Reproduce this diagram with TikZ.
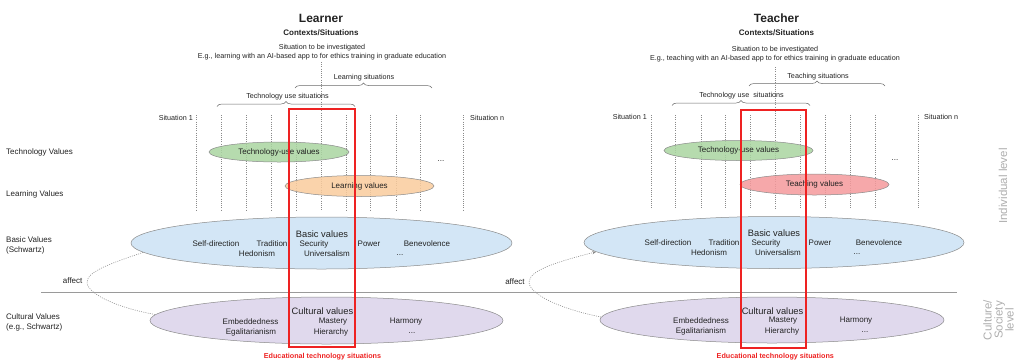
\documentclass[tikz,border=0pt]{standalone}
\usepackage{fontspec}
\setmainfont{Liberation Sans}
\usetikzlibrary{shapes.geometric,decorations.pathreplacing,arrows.meta}
\definecolor{txt}{HTML}{222222}
\definecolor{greenF}{HTML}{A9D5A0}
\definecolor{orangeF}{HTML}{F9CB9C}
\definecolor{pinkF}{HTML}{F4999B}
\definecolor{blueF}{HTML}{CBE2F4}
\definecolor{purpleF}{HTML}{DAD2EA}
\definecolor{edge}{HTML}{8A8A8A}
\definecolor{redbox}{HTML}{EE2222}
\definecolor{levelgray}{HTML}{AEAEAE}
\definecolor{linegray}{HTML}{9A9A9A}
\definecolor{bracegray}{HTML}{6A6A6A}
\begin{document}
\begin{tikzpicture}[x=1pt,y=-1pt,
  every node/.style={text=txt, inner sep=0pt},
  f8/.style={font=\fontsize{8}{9.5}\selectfont},
  f7/.style={font=\fontsize{7.2}{8.5}\selectfont},
  fbig/.style={font=\fontsize{9.3}{11}\selectfont},
  ttl/.style={font=\bfseries\fontsize{12}{14}\selectfont},
  sub/.style={font=\bfseries\fontsize{8}{9.5}\selectfont},
  rowlbl/.style={f8, anchor=west, align=left},
  valell/.style={ellipse, draw=edge, line width=0.5pt, fill opacity=0.85, text opacity=1, inner sep=0pt},
  sitline/.style={draw=edge, dash pattern=on 1pt off 1.2pt, line width=0.55pt},
  bracestyle/.style={draw=bracegray, line width=0.5pt, decorate, decoration={brace, amplitude=5pt}},
  redframe/.style={draw=redbox, line width=2pt},
  redlbl/.style={font=\bfseries\fontsize{7.2}{8.5}\selectfont, text=redbox},
  levellbl/.style={font=\fontsize{11.5}{11}\selectfont, text=levelgray, rotate=90, align=center}
]
\useasboundingbox (0,0) rectangle (1025,360);

% ---------------- row labels ----------------
\node[rowlbl] (rTech) at (6,152) {Technology Values};
\node[rowlbl] (rLearn) at (6,194) {Learning Values};
\node[rowlbl, font=\fontsize{8}{10}\selectfont] (rBasic) at (6,245.5) {Basic Values\\(Schwartz)};
\node[rowlbl, font=\fontsize{8}{10}\selectfont] (rCult) at (6,322) {Cultural Values\\(e.g., Schwartz)};

% ---------------- LEFT panel ----------------
\node[ttl] (learner) at (321,18) {Learner};
\node[sub] (ctxL) at (321,33) {Contexts/Situations};
\node[f7] (invL) at (322,47.5) {Situation to be investigated};
\node[f7] (egL) at (322,56.5) {E.g., learning with an AI-based app to for ethics training in graduate education};

\foreach \x in {196.7,221.7,246.7,271.7,296.3,346.7,370.7,396,420.7,463.3}
  \draw[sitline] (\x,115) -- (\x,210);
\coordinate (cTopL) at (321,62);
\coordinate (cBotL) at (321,210);
\draw[sitline] (cTopL) -- (cBotL);

\coordinate (lsA) at (295,88); \coordinate (lsB) at (432,88);
\draw[bracestyle] (lsA) -- (lsB);
\node[f7] (lsLbl) at (364,77.5) {Learning situations};
\coordinate (tuA) at (217,106.5); \coordinate (tuB) at (355,106.5);
\draw[bracestyle] (tuA) -- (tuB);
\node[f7] (tuLbl) at (287.5,96.5) {Technology use situations};

\node[f7, anchor=east] (s1L) at (193,118) {Situation 1};
\node[f7, anchor=west] (snL) at (470,118) {Situation n};

\node[valell, fill=greenF, minimum width=140, minimum height=20, f8] (tvL) at (279,152) {Technology-use values};
\node[valell, fill=orangeF, minimum width=149, minimum height=21, f8] (lvL) at (359.5,186) {Learning values};
\node[f8] (dotsTL) at (441,161) {...};

\node[valell, fill=blueF, minimum width=381, minimum height=52] (bvL) at (321.5,243) {};
\node[fbig] (bvtL) at (322,234) {Basic values};
\node[f8] (sdL) at (216,244) {Self-direction};
\node[f8] (trL) at (272,244) {Tradition};
\node[f8] (seL) at (314,244) {Security};
\node[f8] (poL) at (369,244) {Power};
\node[f8] (beL) at (427,244) {Benevolence};
\node[f8] (heL) at (257,254) {Hedonism};
\node[f8] (unL) at (327,254) {Universalism};
\node[f8] (bdL) at (400,255) {...};

\node[valell, fill=purpleF, minimum width=353, minimum height=47] (cvL) at (326.5,320.5) {};
\node[fbig] (cvtL) at (322.5,311) {Cultural values};
\node[f8] (emL) at (250.5,322) {Embeddedness};
\node[f8] (egaL) at (251,332) {Egalitarianism};
\node[f8] (maL) at (333,322) {Mastery};
\node[f8] (hiL) at (331,332) {Hierarchy};
\node[f8] (haL) at (406,322) {Harmony};
\node[f8] (cdL) at (412,333) {...};

\node[f8] (affL) at (72.7,281) {affect};
\coordinate (apL) at (87,282);
\draw[sitline] (bvL.183) .. controls (115,262) and (87,271) .. (apL)
  .. controls (87,294) and (118,308) .. (cvL.178);

% ---------------- RIGHT panel ----------------
\node[ttl] (teacher) at (776.5,18) {Teacher};
\node[sub] (ctxR) at (776.5,33) {Contexts/Situations};
\node[f7] (invR) at (775,50) {Situation to be investigated};
\node[f7] (egR) at (775,59) {E.g., teaching with an AI-based app to for ethics training in graduate education};

\foreach \x in {651.3,675.7,701,725.7,750.3,800.3,825.3,850.3,875.3,918}
  \draw[sitline] (\x,115) -- (\x,208);
\coordinate (cTopR) at (775.3,67);
\coordinate (cBotR) at (775.3,208);
\draw[sitline] (cTopR) -- (cBotR);

\coordinate (tsA) at (749,86); \coordinate (tsB) at (885,86);
\draw[bracestyle] (tsA) -- (tsB);
\node[f7] (tsLbl) at (818,77) {Teaching situations};
\coordinate (tuRA) at (672,105.5); \coordinate (tuRB) at (810,105.5);
\draw[bracestyle] (tuRA) -- (tuRB);
\node[f7] (tuRLbl) at (741.5,96) {Technology use\ \ situations};

\node[f7, anchor=east] (s1R) at (647,117) {Situation 1};
\node[f7, anchor=west] (snR) at (924,117) {Situation n};

\node[valell, fill=greenF, minimum width=149, minimum height=20, f8] (tvR) at (738.5,150.5) {Technology-use values};
\node[valell, fill=pinkF, minimum width=149, minimum height=21, f8] (tcR) at (814.5,184.5) {Teaching values};
\node[f8] (dotsTR) at (895,160) {...};

\node[valell, fill=blueF, minimum width=380, minimum height=52] (bvR) at (774,242.5) {};
\node[fbig] (bvtR) at (774,233) {Basic values};
\node[f8] (sdR) at (668,243) {Self-direction};
\node[f8] (trR) at (724,243) {Tradition};
\node[f8] (seR) at (766,243) {Security};
\node[f8] (poR) at (820,243) {Power};
\node[f8] (beR) at (879,243) {Benevolence};
\node[f8] (heR) at (709,253) {Hedonism};
\node[f8] (unR) at (778,253) {Universalism};
\node[f8] (bdR) at (857,254) {...};

\node[valell, fill=purpleF, minimum width=344, minimum height=46] (cvR) at (772,320) {};
\node[fbig] (cvtR) at (772.5,311) {Cultural values};
\node[f8] (emR) at (701,321) {Embeddedness};
\node[f8] (egaR) at (701,331) {Egalitarianism};
\node[f8] (maR) at (783,321) {Mastery};
\node[f8] (hiR) at (782,331) {Hierarchy};
\node[f8] (haR) at (856,321) {Harmony};
\node[f8] (cdR) at (865,332) {...};

\node[f8] (affR) at (515,282) {affect};
\coordinate (apR) at (529,282);
\draw[sitline, -{Stealth[length=4pt,width=3pt]}] (cvR.179) .. controls (560,309) and (529,294) .. (apR)
  .. controls (529,270) and (560,261) .. (bvR.183);

% ---------------- separator & levels ----------------
\coordinate (hlA) at (41,292.5);
\coordinate (hlB) at (957,292.5);
\draw[linegray, line width=0.9pt] (hlA) -- (hlB);

\node[levellbl] (indiv) at (1003,186) {Individual level};
\node[levellbl] (cultlvl) at (998.5,320) {Culture/\\Society\\level};

% ---------------- red frames ----------------
\coordinate (rLa) at (289,109); \coordinate (rLb) at (355,347);
\draw[redframe] (rLa) rectangle (rLb);
\node[redlbl] (edL) at (322.5,356.7) {Educational technology situations};
\coordinate (rRa) at (741,110); \coordinate (rRb) at (806,348);
\draw[redframe] (rRa) rectangle (rRb);
\node[redlbl] (edR) at (775.3,356.7) {Educational technology situations};
\end{tikzpicture}
\end{document}
